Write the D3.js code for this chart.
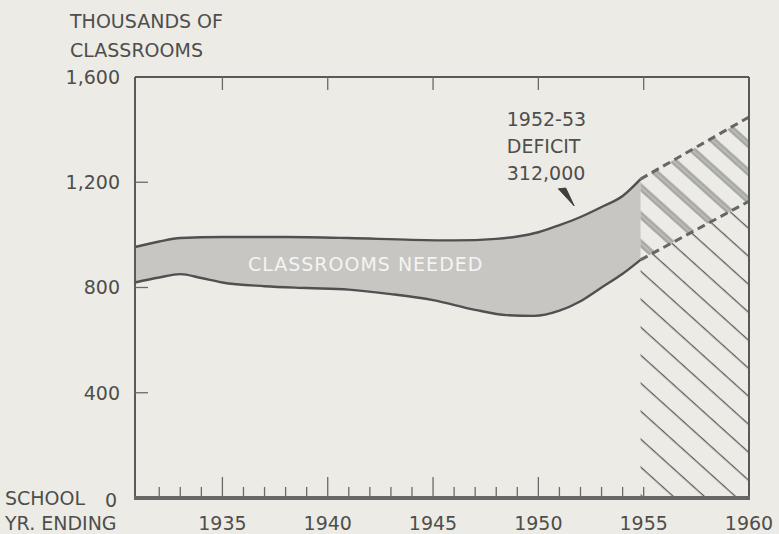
<!DOCTYPE html>
<html>
<head>
<meta charset="utf-8">
<script src="https://cdn.jsdelivr.net/npm/d3@7"></script>
<style>
  body { margin: 0; background: #ecebe6; }
  svg { display: block; }
  text { font-family: "DejaVu Sans", sans-serif; fill: #4e4e4c; }
</style>
</head>
<body>
<svg id="chart" width="779" height="534"></svg>
<script>
// classrooms needed (upper edge of band), thousands
const needYears = [1930.85, 1932, 1933, 1935, 1938, 1941, 1944, 1946, 1948, 1949, 1950, 1951, 1952, 1953, 1954, 1954.85];
const needValues = [954, 975, 988, 992, 992, 988, 981, 979, 985, 994, 1010, 1037, 1068, 1106, 1148, 1212];

// classrooms available (lower edge of band), thousands
const haveYears = [1930.85, 1932, 1933, 1934, 1935, 1937, 1939, 1941, 1943, 1945, 1947, 1948.5, 1949.8, 1951, 1952, 1953, 1954, 1954.85];
const haveValues = [819, 838, 851, 836, 819, 805, 798, 792, 775, 752, 715, 695, 692, 712, 748, 800, 852, 905];

// projected to 1960 (dashed)
const projYears = [1954.85, 1960];
const projNeed = [1212, 1448];
const projHave = [905, 1128];

const yTicks = [400, 800, 1200, 1600];
const yTickLabels = ["400", "800", "1,200", "1,600"];
const xLabelYears = [1935, 1940, 1945, 1950, 1955, 1960];
const minorTickYears = d3.range(1932, 1956);
const topTickYears = [1935, 1940, 1945, 1950, 1955];

const noteLines = ["1952-53", "DEFICIT", "312,000"];

const svg = d3.select("#chart");
const W = 779, H = 534;
const pLeft = 135, pRight = 749, pTop = 77, pBottom = 498;

const x = d3.scaleLinear().domain([1930.85, 1960]).range([pLeft, pRight]);
const y = d3.scaleLinear().domain([0, 1600]).range([pBottom, pTop]);

svg.append("rect").attr("width", W).attr("height", H).attr("fill", "#ecebe6");

// hatch patterns
const defs = svg.append("defs");
const gap = 20.8;
const thin = defs.append("pattern")
    .attr("id", "thinHatch")
    .attr("patternUnits", "userSpaceOnUse")
    .attr("width", 10).attr("height", gap)
    .attr("patternTransform", "rotate(42)");
thin.append("line")
    .attr("x1", 0).attr("x2", 10).attr("y1", 1.6).attr("y2", 1.6)
    .attr("stroke", "#5e5e5c").attr("stroke-width", 1.3);

const thick = defs.append("pattern")
    .attr("id", "thickHatch")
    .attr("patternUnits", "userSpaceOnUse")
    .attr("width", 10).attr("height", gap)
    .attr("patternTransform", "rotate(42)");
thick.append("rect")
    .attr("x", 0).attr("width", 10).attr("y", -1.6).attr("height", 6.4)
    .attr("fill", "#a3a3a0");
thick.append("rect")
    .attr("x", 0).attr("width", 10).attr("y", gap - 1.6).attr("height", 6.4)
    .attr("fill", "#a3a3a0");
thick.append("line")
    .attr("x1", 0).attr("x2", 10).attr("y1", 1.6).attr("y2", 1.6)
    .attr("stroke", "#bdbdba").attr("stroke-width", 2);

// band
const needPts = needYears.map((d, i) => [d, needValues[i]]);
const havePts = haveYears.map((d, i) => [d, haveValues[i]]);

const lineGen = d3.line().x(d => x(d[0])).y(d => y(d[1])).curve(d3.curveMonotoneX);
const needPath = lineGen(needPts);
const havePath = lineGen(havePts.slice().reverse());

svg.append("path")
    .attr("d", needPath + "L" + havePath.slice(1) + "Z")
    .attr("fill", "#c7c6c2");

// projection areas
const projPts = projYears.map((d, i) => ({ yr: d, hi: projNeed[i], lo: projHave[i] }));
svg.append("path")
    .datum(projPts)
    .attr("d", d3.area().x(d => x(d.yr)).y0(d => y(0)).y1(d => y(d.lo)))
    .attr("fill", "url(#thinHatch)");
svg.append("path")
    .datum(projPts)
    .attr("d", d3.area().x(d => x(d.yr)).y0(d => y(d.lo)).y1(d => y(d.hi)))
    .attr("fill", "url(#thickHatch)");

// band edges
svg.append("path").attr("d", needPath)
    .attr("fill", "none").attr("stroke", "#505050").attr("stroke-width", 2.4);
svg.append("path").attr("d", lineGen(havePts))
    .attr("fill", "none").attr("stroke", "#505050").attr("stroke-width", 2.4);

const projLine = d3.line().x(d => x(d[0])).y(d => y(d[1]));
[projNeed, projHave].forEach(vals => {
    svg.append("path")
        .attr("d", projLine(projYears.map((d, i) => [d, vals[i]])))
        .attr("fill", "none").attr("stroke", "#666664")
        .attr("stroke-width", 3).attr("stroke-dasharray", "8,5");
});

// frame
const frame = svg.append("g").attr("stroke", "#595957").attr("fill", "none");
frame.append("line").attr("x1", pLeft).attr("x2", pLeft).attr("y1", pTop).attr("y2", pBottom).attr("stroke-width", 2);
frame.append("line").attr("x1", pLeft).attr("x2", pRight).attr("y1", pTop).attr("y2", pTop).attr("stroke-width", 2);
frame.append("line").attr("x1", pRight).attr("x2", pRight).attr("y1", pTop).attr("y2", pBottom).attr("stroke-width", 2);
frame.append("line").attr("x1", pLeft - 1).attr("x2", pRight + 1).attr("y1", pBottom).attr("y2", pBottom)
    .attr("stroke-width", 4).attr("stroke", "#666664");

// ticks
const ticks = svg.append("g").attr("stroke", "#6a6a68").attr("stroke-width", 1.3);
ticks.selectAll(".minor").data(minorTickYears).join("line")
    .attr("x1", d => x(d)).attr("x2", d => x(d))
    .attr("y1", pBottom)
    .attr("y2", d => pBottom - (d % 5 === 0 && d < 1955 ? 21 : 11));
ticks.selectAll(".top").data(topTickYears).join("line")
    .attr("x1", d => x(d)).attr("x2", d => x(d))
    .attr("y1", pTop).attr("y2", pTop + 13);
ticks.selectAll(".ytick").data(yTicks.slice(0, 3)).join("line")
    .attr("x1", pLeft).attr("x2", pLeft + 13)
    .attr("y1", d => y(d)).attr("y2", d => y(d));

// y labels
svg.selectAll(".ylab").data(yTicks).join("text")
    .attr("x", 120).attr("y", d => y(d)).attr("dy", "0.36em")
    .attr("text-anchor", "end").attr("font-size", 19)
    .text((d, i) => yTickLabels[i]);
svg.append("text").attr("x", 117).attr("y", y(0) + 9)
    .attr("text-anchor", "end").attr("font-size", 19).text("0");

// x labels
svg.selectAll(".xlab").data(xLabelYears).join("text")
    .attr("x", d => x(d)).attr("y", 530)
    .attr("text-anchor", "middle").attr("font-size", 19)
    .text(d => d);

// axis titles
svg.append("text").attr("x", 70).attr("y", 28).attr("font-size", 19).text("THOUSANDS OF");
svg.append("text").attr("x", 70).attr("y", 57).attr("font-size", 19).text("CLASSROOMS");
svg.append("text").attr("x", 5).attr("y", 505).attr("font-size", 19).text("SCHOOL");
svg.append("text").attr("x", 5).attr("y", 530).attr("font-size", 19).text("YR. ENDING");

// band label
svg.append("text")
    .attr("x", x(1941.8)).attr("y", y(890)).attr("dy", "0.36em")
    .attr("text-anchor", "middle").attr("font-size", 19)
    .attr("letter-spacing", 1)
    .style("fill", "#f5f5f2")
    .text("CLASSROOMS NEEDED");

// deficit note
svg.selectAll(".note").data(noteLines).join("text")
    .attr("x", x(1948.5)).attr("y", (d, i) => 126 + i * 27)
    .attr("font-size", 19)
    .text(d => d);
svg.append("path")
    .attr("d", `M${x(1950.95)},${y(1175)}L${x(1951.3)},${y(1178)}L${x(1951.7)},${y(1110)}Z`)
    .attr("fill", "#3f3f3d").attr("stroke", "#3f3f3d").attr("stroke-width", 1);
</script>
</body>
</html>
